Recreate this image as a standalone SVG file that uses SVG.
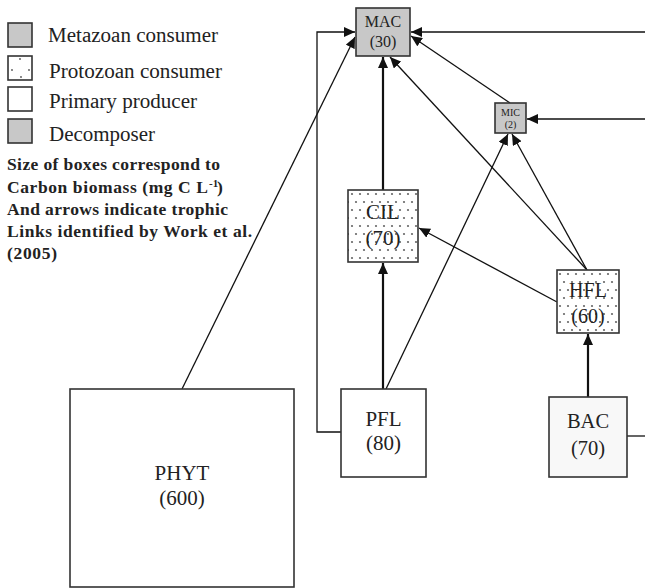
<svg xmlns="http://www.w3.org/2000/svg" width="645" height="588" viewBox="0 0 645 588">
<style>
.box{stroke:#333;stroke-width:1.6}
.meta{fill:#c8c8c8}
.white{fill:#fff}
.bac{fill:#f8f8f8}
.lbl{font-family:"Liberation Serif","Times New Roman",serif;fill:#222;text-anchor:middle}
.leg{font-family:"Liberation Serif","Times New Roman",serif;fill:#222;font-size:20px}
.note{font-family:"Liberation Serif","Times New Roman",serif;fill:#222;font-size:17.5px;font-weight:bold}
.sup{font-size:11px}
.c{stroke:#111;stroke-width:1.3;fill:none}
.t{stroke:#111;stroke-width:2.2;fill:none}
</style>
<defs>
<marker id="ah" markerUnits="userSpaceOnUse" markerWidth="11" markerHeight="10" refX="11" refY="5" orient="auto">
<path d="M0,0 L11,5 L0,10 z" fill="#111"/>
</marker>
<pattern id="dots" width="16" height="16" patternUnits="userSpaceOnUse" x="348" y="190">
<rect width="16" height="16" fill="#fff"/>
<circle cx="4" cy="4" r="1.1" fill="#666"/>
<circle cx="12" cy="4" r="1.1" fill="#666"/>
<circle cx="8" cy="12" r="1.1" fill="#666"/>
<circle cx="0" cy="12" r="1.1" fill="#666"/>
<circle cx="16" cy="12" r="1.1" fill="#666"/>
</pattern>
</defs>

<g id="legend">
<rect class="box meta" x="8" y="23" width="24" height="24"/>
<text class="leg" x="48" y="42" textLength="170" lengthAdjust="spacingAndGlyphs">Metazoan consumer</text>
<rect class="box white" x="8" y="56" width="24" height="24"/>
<circle cx="20" cy="59" r="0.9" fill="#555"/>
<circle cx="12" cy="70" r="0.9" fill="#555"/>
<circle cx="29" cy="70" r="0.9" fill="#555"/>
<circle cx="21" cy="77" r="0.9" fill="#555"/>
<text class="leg" x="49" y="78" textLength="173" lengthAdjust="spacingAndGlyphs">Protozoan consumer</text>
<rect class="box white" x="8" y="87" width="24" height="24"/>
<text class="leg" x="49" y="108" textLength="148" lengthAdjust="spacingAndGlyphs">Primary producer</text>
<rect class="box meta" x="8" y="119" width="24" height="24"/>
<text class="leg" x="49" y="141" textLength="106" lengthAdjust="spacingAndGlyphs">Decomposer</text>
<text class="note" x="7" y="170" textLength="213" lengthAdjust="spacing">Size of boxes correspond to</text>
<text class="note" x="7" y="193" textLength="201" lengthAdjust="spacing">Carbon biomass (mg C L</text>
<text class="note sup" x="209" y="187">-1</text>
<text class="note" x="217" y="193">)</text>
<text class="note" x="7" y="215" textLength="221" lengthAdjust="spacing">And arrows indicate trophic</text>
<text class="note" x="7" y="237" textLength="245" lengthAdjust="spacing">Links identified by Work et al.</text>
<text class="note" x="7" y="259" textLength="50" lengthAdjust="spacing">(2005)</text>
</g>

<g id="connectors">
<line class="c" x1="182" y1="389" x2="355" y2="37" marker-end="url(#ah)"/>
<polyline class="c" points="341,432 317,432 317,32 355,32" marker-end="url(#ah)"/>
<line class="t" x1="383" y1="389" x2="383" y2="263" marker-end="url(#ah)"/>
<line class="t" x1="383" y1="190" x2="383" y2="57" marker-end="url(#ah)"/>
<line class="c" x1="386" y1="389" x2="508" y2="134" marker-end="url(#ah)"/>
<line class="c" x1="587" y1="270" x2="512" y2="134" marker-end="url(#ah)"/>
<line class="c" x1="587" y1="270" x2="390" y2="57" marker-end="url(#ah)"/>
<line class="c" x1="557" y1="302" x2="419" y2="228" marker-end="url(#ah)"/>
<line class="t" x1="588" y1="397" x2="588" y2="334" marker-end="url(#ah)"/>
<line class="c" x1="510" y1="103" x2="411" y2="36" marker-end="url(#ah)"/>
<line class="c" x1="645" y1="32" x2="411" y2="32" marker-end="url(#ah)"/>
<line class="c" x1="645" y1="119" x2="527" y2="119" marker-end="url(#ah)"/>
<line class="c" x1="627" y1="436" x2="645" y2="436"/>
</g>

<g id="MAC">
<rect class="box meta" x="356" y="8" width="54" height="48"/>
<text class="lbl" x="383" y="27" font-size="16">MAC</text>
<text class="lbl" x="383" y="47" font-size="16">(30)</text>
</g>
<g id="MIC">
<rect class="box meta" x="495" y="103" width="31" height="30"/>
<text class="lbl" x="510.5" y="116" font-size="10">MIC</text>
<text class="lbl" x="510.5" y="128" font-size="10">(2)</text>
</g>
<g id="CIL">
<rect class="box" fill="url(#dots)" x="348" y="190" width="70" height="72"/>
<text class="lbl" x="383" y="219" font-size="21">CIL</text>
<text class="lbl" x="383" y="245" font-size="21">(70)</text>
</g>
<g id="HFL">
<rect class="box" fill="url(#dots)" x="557" y="270" width="62" height="63"/>
<text class="lbl" x="588" y="297" font-size="20">HFL</text>
<text class="lbl" x="588" y="323" font-size="20">(60)</text>
</g>
<g id="PFL">
<rect class="box white" x="341" y="389" width="85" height="88"/>
<text class="lbl" x="383.5" y="426" font-size="21">PFL</text>
<text class="lbl" x="383.5" y="450" font-size="21">(80)</text>
</g>
<g id="BAC">
<rect class="box bac" x="549" y="397" width="78" height="80"/>
<text class="lbl" x="588" y="428" font-size="20.5">BAC</text>
<text class="lbl" x="588" y="455" font-size="20.5">(70)</text>
</g>
<g id="PHYT">
<rect class="box white" x="70" y="389" width="224" height="198"/>
<text class="lbl" x="182" y="480" font-size="21">PHYT</text>
<text class="lbl" x="182" y="505" font-size="21">(600)</text>
</g>
</svg>
